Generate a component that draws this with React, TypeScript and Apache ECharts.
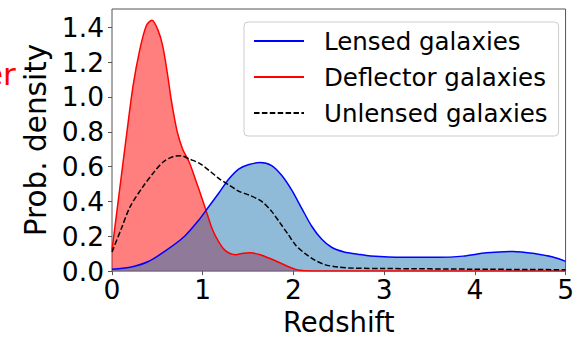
import React, { useEffect, useRef } from "react";
import * as echarts from "echarts";

// Lensed galaxies (blue)
const lensedX = [0, 0.2, 0.4, 0.6, 0.8, 0.96, 1.07, 1.18, 1.29, 1.4, 1.51, 1.63, 1.76, 1.87, 1.98, 2.09, 2.2, 2.31, 2.42, 2.56, 2.71, 2.85, 3.2, 3.6, 3.87, 4.13, 4.42, 4.67, 4.86, 5.0];
const lensedY = [0.01, 0.022, 0.055, 0.12, 0.2, 0.295, 0.372, 0.45, 0.53, 0.587, 0.612, 0.623, 0.606, 0.55, 0.466, 0.362, 0.259, 0.184, 0.137, 0.11, 0.097, 0.087, 0.079, 0.079, 0.086, 0.105, 0.113, 0.1, 0.081, 0.056];

// Deflector galaxies (red)
const deflX = [0, 0.087, 0.16, 0.233, 0.306, 0.379, 0.44, 0.506, 0.56, 0.615, 0.651, 0.688, 0.724, 0.779, 0.852, 0.924, 0.997, 1.034, 1.106, 1.18, 1.25, 1.36, 1.416, 1.525, 1.634, 1.743, 1.85, 1.96, 2.05, 2.2, 5.0];
const deflY = [0.12, 0.48, 0.78, 1.066, 1.27, 1.41, 1.44, 1.385, 1.29, 1.12, 0.99, 0.88, 0.79, 0.7, 0.625, 0.52, 0.41, 0.353, 0.24, 0.165, 0.118, 0.094, 0.1, 0.105, 0.094, 0.072, 0.048, 0.022, 0.006, 0, 0];

// Unlensed galaxies (black dashed)
const unlX = [0, 0.1, 0.2, 0.34, 0.45, 0.56, 0.67, 0.76, 0.85, 0.96, 1.07, 1.18, 1.29, 1.4, 1.51, 1.65, 1.76, 1.85, 1.94, 2.03, 2.13, 2.24, 2.34, 2.49, 2.67, 3.0, 4.0, 5.0];
const unlY = [0.11, 0.24, 0.37, 0.484, 0.56, 0.625, 0.657, 0.663, 0.644, 0.62, 0.578, 0.531, 0.494, 0.458, 0.437, 0.4, 0.343, 0.278, 0.212, 0.146, 0.1, 0.062, 0.038, 0.023, 0.017, 0.015, 0.011, 0.008];

const legendNames = ["Lensed galaxies", "Deflector galaxies", "Unlensed galaxies"];
const xTicks = { min: 0, max: 5, interval: 1 };
const yTicks = { min: 0, max: 1.505, interval: 0.2 };

const FONT = "DejaVu Sans";

function pairs(xs: number[], ys: number[]) {
  return xs.map((x, i) => [x, ys[i]]);
}

export default function App() {
  const ref = useRef<HTMLDivElement>(null);
  useEffect(() => {
    if (!ref.current) return;
    const chart = echarts.init(ref.current, null, { renderer: "svg" });
    chart.setOption({
      animation: false,
      backgroundColor: "#ffffff",
      grid: {
        left: 112,
        right: 7,
        top: 9,
        bottom: 65,
        show: true,
        borderColor: "#555",
        borderWidth: 1,
        backgroundColor: "transparent",
      },
      xAxis: {
        type: "value",
        min: xTicks.min,
        max: xTicks.max,
        interval: xTicks.interval,
        name: "Redshift",
        nameLocation: "middle",
        nameGap: 35,
        nameTextStyle: { fontFamily: FONT, fontSize: 27.5, color: "#000" },
        axisLine: { show: false },
        axisTick: { show: true, length: 4, lineStyle: { color: "#555" } },
        axisLabel: { fontFamily: FONT, fontSize: 26.5, color: "#000", margin: 5 },
        splitLine: { show: false },
      },
      yAxis: {
        type: "value",
        min: yTicks.min,
        max: yTicks.max,
        interval: yTicks.interval,
        name: "Prob. density",
        nameLocation: "middle",
        nameGap: 61,
        nameRotate: 90,
        nameTextStyle: { fontFamily: FONT, fontSize: 29.5, color: "#000" },
        axisLine: { show: false },
        axisTick: { show: true, length: 4, lineStyle: { color: "#555" } },
        axisLabel: {
          fontFamily: FONT,
          fontSize: 26.5,
          color: "#000",
          margin: 8,
          showMaxLabel: false,
          formatter: (v: number) => (Math.abs(v / 0.2 - Math.round(v / 0.2)) < 1e-6 ? v.toFixed(1) : ""),
        },
        splitLine: { show: false },
      },
      legend: {
        data: legendNames,
        orient: "vertical",
        left: 244,
        top: 22,
        padding: [5, 11, 9, 9],
        itemGap: 8,
        itemWidth: 50,
        itemHeight: 14,
        itemStyle: { opacity: 0 },
        backgroundColor: "#fff",
        borderColor: "#cccccc",
        borderWidth: 1,
        borderRadius: 4,
        textStyle: {
          fontFamily: FONT,
          fontSize: 24.5,
          color: "#000",
          lineHeight: 28,
          padding: [0, 0, 0, 15],
        },
      },
      graphic: [
        {
          type: "text",
          left: -16,
          top: 58,
          style: { text: "er", fill: "#ff0000", font: `31px "${FONT}"` },
        },
      ],
      series: [
        {
          type: "line",
          name: "Deflector galaxies",
          data: pairs(deflX, deflY),
          smooth: 0.3,
          symbol: "none",
          lineStyle: { color: "#ff0000", width: 1.5 },
          itemStyle: { color: "#ff0000" },
          areaStyle: { color: "#ff0000", opacity: 0.5 },
        },
        {
          type: "line",
          name: "Lensed galaxies",
          data: pairs(lensedX, lensedY),
          smooth: 0.3,
          symbol: "none",
          lineStyle: { color: "#0000ff", width: 1.5 },
          itemStyle: { color: "#0000ff" },
          areaStyle: { color: "#1f77b4", opacity: 0.5 },
        },
        {
          type: "line",
          name: "Unlensed galaxies",
          data: pairs(unlX, unlY),
          smooth: 0.3,
          symbol: "none",
          lineStyle: { color: "#000000", width: 1.5, type: [5.5, 2.4] },
          itemStyle: { color: "#000000" },
        },
      ],
    });
    return () => chart.dispose();
  }, []);
  return (
    <div
      ref={ref}
      style={{ position: "fixed", left: 0, top: 0, width: 577, height: 341 }}
    />
  );
}
